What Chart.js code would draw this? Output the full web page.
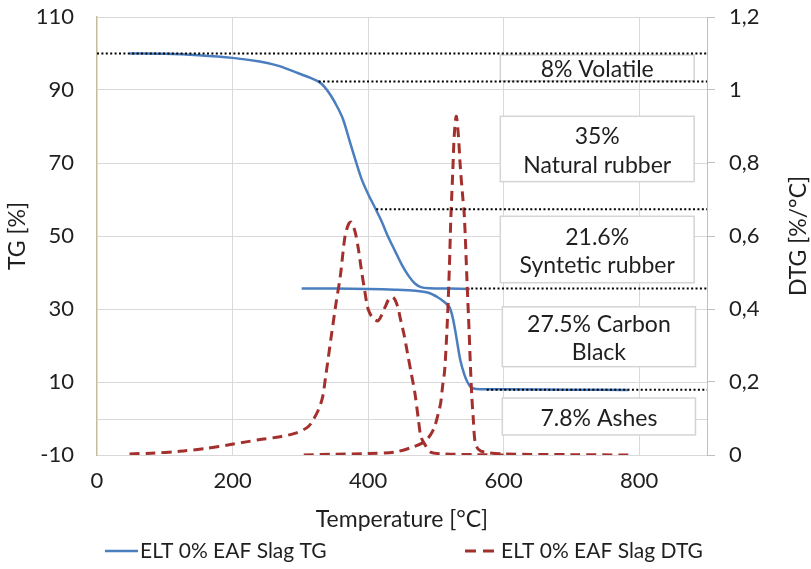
<!DOCTYPE html>
<html><head><meta charset="utf-8">
<script src="https://cdn.jsdelivr.net/npm/chart.js@4.4.0/dist/chart.umd.min.js"></script>
<style>html,body{margin:0;padding:0;background:#fff;}#wrap{width:811px;height:569px;}</style>
</head><body><div id="wrap"><canvas id="c" width="811" height="569"></canvas></div>
<script>
// ---- data ----
const seriesNames = ['ELT 0% EAF Slag TG', 'ELT 0% EAF Slag DTG'];
const tgRun1Temp  = [48, 100, 150, 200, 240, 268, 297, 315, 327, 335, 345, 355, 363, 372, 381, 390, 400, 410, 420, 429, 440, 450, 460, 469, 478, 490, 520, 550];
const tgRun1Value = [100, 99.9, 99.5, 98.8, 97.8, 96.6, 94.6, 93.3, 92.3, 91, 88.5, 85.2, 82, 76.5, 71, 65.8, 61.5, 57.8, 54, 50, 45.8, 42, 39, 37, 36, 35.7, 35.6, 35.5];
const tgRun2Temp  = [302, 350, 400, 440, 470, 490, 502, 512, 520, 525, 530, 536, 542, 547, 552, 560, 600, 700, 784];
const tgRun2Value = [35.6, 35.6, 35.5, 35.3, 35, 34.4, 33.3, 32, 30.5, 27.5, 22.5, 16, 12, 9.8, 8.5, 8.1, 8.0, 7.9, 7.8];
const dtgRun1Temp  = [48, 80, 122, 160, 195, 220, 243, 270, 293, 310, 317, 327, 333, 337, 346, 353, 359, 366, 371, 375, 381, 386, 390, 395, 400, 407, 415, 425, 431, 437, 443, 448, 453, 458, 464, 469, 474, 478, 485, 492, 513, 560, 600];
const dtgRun1Value = [0.003, 0.005, 0.01, 0.018, 0.028, 0.036, 0.043, 0.05, 0.06, 0.075, 0.09, 0.125, 0.16, 0.21, 0.33, 0.42, 0.49, 0.6, 0.632, 0.638, 0.61, 0.56, 0.508, 0.45, 0.4, 0.375, 0.368, 0.405, 0.428, 0.432, 0.41, 0.37, 0.33, 0.28, 0.22, 0.17, 0.1, 0.05, 0.025, 0.008, 0.003, 0.001, 0];
const dtgRun2Temp  = [305, 350, 400, 439, 463, 483, 492, 498, 503, 507, 510, 513, 517, 520, 522, 525, 527, 530, 533, 536, 539, 542, 546, 549, 551, 553, 555, 558, 563, 571, 600, 700, 785];
const dtgRun2Value = [0, 0.002, 0.004, 0.008, 0.02, 0.036, 0.055, 0.077, 0.11, 0.142, 0.19, 0.233, 0.37, 0.52, 0.645, 0.78, 0.873, 0.928, 0.88, 0.79, 0.72, 0.654, 0.472, 0.34, 0.242, 0.16, 0.104, 0.033, 0.015, 0.008, 0.003, 0.001, 0];
const tempTicks = [0, 200, 400, 600, 800];
const tgTicks = [-10, 10, 30, 50, 70, 90, 110];
const dtgTicks = [0, 0.2, 0.4, 0.6, 0.8, 1, 1.2];
const stageLevels = [100, 92.3, 57.3, 35.6, 7.9];
const stageStarts = [0, 327, 412, 552, 575];
const stageLabels = [['8% Volatile'], ['35%', 'Natural rubber'], ['21.6%', 'Syntetic rubber'], ['27.5% Carbon', 'Black'], ['7.8% Ashes']];

// ---- layout (annotation boxes in data units) ----
const boxX = [[595, 881], [595, 881], [595, 881], [598, 883], [598, 883]];
const boxY = [[99.6, 92.5], [82.8, 64.9], [55.4, 37.2], [30.6, 14.2], [5.6, -4.5]];

const FONT = 'Lato, "Open Sans", sans-serif';
const TXT = '#1f1f1f';
const FS = 23;
Chart.defaults.font.family = FONT;
Chart.defaults.font.size = FS;
Chart.defaults.color = TXT;

const pts = (xs, ys) => xs.map((x, i) => ({x: x, y: ys[i]}));
const TG_COLOR = '#4a7ebf', DTG_COLOR = '#a3302d';

const datasets = [];
datasets.push({label: seriesNames[0], data: pts(tgRun1Temp, tgRun1Value), yAxisID: 'y', borderColor: TG_COLOR, borderWidth: 2.5, order: 2});
datasets.push({label: seriesNames[0], data: pts(tgRun2Temp, tgRun2Value), yAxisID: 'y', borderColor: TG_COLOR, borderWidth: 2.5, order: 2});
datasets.push({label: seriesNames[1], data: pts(dtgRun1Temp, dtgRun1Value), yAxisID: 'y2', borderColor: DTG_COLOR, borderWidth: 3, borderDash: [10, 6], order: 1});
datasets.push({label: seriesNames[1], data: pts(dtgRun2Temp, dtgRun2Value), yAxisID: 'y2', borderColor: DTG_COLOR, borderWidth: 3, borderDash: [10, 6], order: 1});
stageLevels.forEach((lv, i) => {
  datasets.push({label: 'stage', data: [{x: stageStarts[i], y: lv}, {x: 900, y: lv}], yAxisID: 'y',
    borderColor: '#000', borderWidth: 2, borderDash: [2, 2.4], tension: 0, order: 0});
});
datasets.forEach(d => { d.showLine = true; d.pointRadius = 0; d.fill = false; if (d.tension === undefined) d.tension = 0.3; });

const noPadV = s => { s.paddingTop = 0; s.paddingBottom = 0; };

const annot = {
  id: 'annot',
  beforeDatasetsDraw(chart) {
    const {ctx, chartArea: a, scales} = chart;
    const y = scales.y, x = scales.x;
    // horizontal axis crossing line at TG = 0
    const py = Math.round(y.getPixelForValue(0)) + 0.5;
    ctx.save();
    ctx.strokeStyle = '#d9d9d9'; ctx.lineWidth = 1;
    ctx.beginPath(); ctx.moveTo(a.left, py); ctx.lineTo(a.right, py); ctx.stroke();
    // stage boxes
    ctx.font = FS + 'px ' + FONT;
    ctx.textAlign = 'center'; ctx.textBaseline = 'middle';
    stageLabels.forEach((lines, i) => {
      const x0 = x.getPixelForValue(boxX[i][0]), x1 = x.getPixelForValue(boxX[i][1]);
      const y0 = y.getPixelForValue(boxY[i][0]), y1 = y.getPixelForValue(boxY[i][1]);
      ctx.fillStyle = '#fff';
      ctx.fillRect(x0, y0, x1 - x0, y1 - y0);
      ctx.strokeStyle = '#d4d4d4'; ctx.lineWidth = 1.5;
      ctx.strokeRect(x0, y0, x1 - x0, y1 - y0);
      ctx.fillStyle = TXT;
      const cx = (x0 + x1) / 2, cy = (y0 + y1) / 2 + 2, lh = 28.5;
      lines.forEach((t, k) => ctx.fillText(t, cx, cy + (k - (lines.length - 1) / 2) * lh));
    });
    ctx.restore();
  },
  afterDraw(chart) {
    const {ctx, chartArea: a} = chart;
    ctx.save();
    // right axis title (reads bottom to top)
    ctx.font = FS + 'px ' + FONT; ctx.fillStyle = TXT;
    ctx.translate(799, (a.top + a.bottom) / 2);
    ctx.rotate(-Math.PI / 2);
    ctx.textAlign = 'center'; ctx.textBaseline = 'middle';
    ctx.fillText('DTG [%/°C]', 0, 0);
    ctx.restore();
    // legend
    ctx.save();
    const ly = 551;
    ctx.lineWidth = 2.5; ctx.strokeStyle = TG_COLOR;
    ctx.beginPath(); ctx.moveTo(105, ly); ctx.lineTo(138, ly); ctx.stroke();
    ctx.lineWidth = 3; ctx.strokeStyle = DTG_COLOR; ctx.setLineDash([11, 7]);
    ctx.beginPath(); ctx.moveTo(465, ly); ctx.lineTo(495, ly); ctx.stroke();
    ctx.setLineDash([]);
    ctx.font = '21px ' + FONT; ctx.fillStyle = TXT;
    ctx.textAlign = 'left'; ctx.textBaseline = 'middle';
    ctx.fillText(seriesNames[0], 140, ly);
    ctx.fillText(seriesNames[1], 501, ly);
    ctx.restore();
  }
};

new Chart(document.getElementById('c'), {
  type: 'scatter',
  data: {datasets: datasets},
  options: {
    responsive: false, animation: false, devicePixelRatio: 1,
    layout: {padding: {top: 17, bottom: 35, left: 0, right: 0}},
    plugins: {legend: {display: false}, tooltip: {enabled: false}},
    scales: {
      x: {
        type: 'linear', min: 0, max: 900,
        afterBuildTicks: s => { s.ticks = tempTicks.map(v => ({value: v})); },
        afterFit: s => { s.height = 79; s.paddingLeft = 0; s.paddingRight = 0; },
        grid: {color: c => (c.tick && c.tick.value === 0) ? 'rgba(0,0,0,0)' : '#d9d9d9', drawTicks: false},
        border: {display: true, color: '#d9d9d9'},
        ticks: {padding: 13, font: {size: 22}, callback: v => String(v)},
        title: {display: true, text: 'Temperature [°C]', padding: {top: 0, bottom: 1}}
      },
      y: {
        type: 'linear', position: 'left', min: -10, max: 110,
        afterBuildTicks: s => { s.ticks = tgTicks.map(v => ({value: v})); },
        afterFit: s => { s.width = 97; noPadV(s); },
        grid: {color: '#d9d9d9', drawTicks: false},
        border: {display: true, color: '#c6bd98', width: 1.5},
        ticks: {padding: 23, font: {size: 22}, callback: v => String(v)},
        title: {display: true, text: 'TG [%]', padding: {top: 4, bottom: 0}}
      },
      y2: {
        type: 'linear', position: 'right', min: 0, max: 1.2,
        afterBuildTicks: s => { s.ticks = dtgTicks.map(v => ({value: v})); },
        afterFit: s => { s.width = 104; noPadV(s); },
        grid: {drawOnChartArea: false, drawTicks: true, tickLength: 8, color: '#bfbfbf'},
        border: {display: true, color: '#bfbfbf'},
        ticks: {padding: 14, font: {size: 22}, callback: v => String(v).replace('.', ',')},
        title: {display: false}
      }
    }
  },
  plugins: [annot]
});
</script></body></html>
